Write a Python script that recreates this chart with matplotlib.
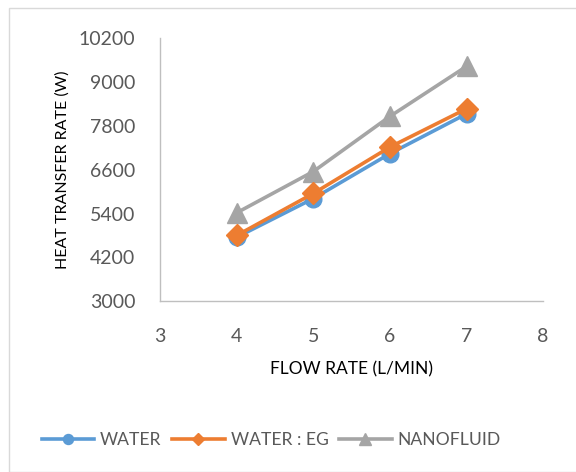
import matplotlib
matplotlib.use("Agg")
import matplotlib.pyplot as plt
from matplotlib.patches import Rectangle

# values
flow_rate = [4, 5, 6, 7]
water = [4750, 5810, 7040, 8130]
water_eg = [4800, 5950, 7220, 8270]
nanofluid = [5420, 6550, 8060, 9430]

x_ticks = [3, 4, 5, 6, 7, 8]
y_ticks = [3000, 4200, 5400, 6600, 7800, 9000, 10200]

plt.rcParams["font.family"] = ["Lato", "DejaVu Sans"]
TICK_COLOR = "#595959"
SPINE_COLOR = "#bfbfbf"

fig = plt.figure(figsize=(5.76, 4.72), dpi=100)
ax = fig.add_axes([0.278, 0.362, 0.665, 0.557])

ax.plot(flow_rate, water, color="#5B9BD5", lw=2.6, marker="o", ms=12,
        label="WATER", zorder=3)
ax.plot(flow_rate, water_eg, color="#ED7D31", lw=2.6, marker="D", ms=11,
        label="WATER : EG", zorder=4)
ax.plot(flow_rate, nanofluid, color="#A5A5A5", lw=2.6, marker="^", ms=14,
        label="NANOFLUID", zorder=2)

ax.set_xlim(3, 8)
ax.set_ylim(3000, 10200)
ax.set_xticks(x_ticks)
ax.set_yticks(y_ticks)
ax.tick_params(length=0, labelsize=14, colors=TICK_COLOR)
ax.tick_params(axis="y", pad=18)
ax.tick_params(axis="x", pad=19)

for s in ["top", "right"]:
    ax.spines[s].set_visible(False)
for s in ["left", "bottom"]:
    ax.spines[s].set_color(SPINE_COLOR)
    ax.spines[s].set_linewidth(1.0)

ax.set_xlabel("FLOW RATE (L/MIN)", fontsize=12.5, color="black", labelpad=12)
ax.set_ylabel("HEAT TRANSFER RATE (W)", fontsize=11.5, color="black", labelpad=6)

leg = fig.legend(loc="center", bbox_to_anchor=(0.471, 0.068), ncol=3, frameon=False,
                 fontsize=12.6, handlelength=3.0, handletextpad=0.35, columnspacing=0.6,
                 markerscale=0.6)
for t in leg.get_texts():
    t.set_color(TICK_COLOR)

# chart area border
fig.patches.append(Rectangle((9 / 576, 0.0), 1.2, 1 - 8 / 472, transform=fig.transFigure,
                             fill=False, edgecolor="#d9d9d9", lw=1.0))

fig.savefig("out.png", dpi=100)
